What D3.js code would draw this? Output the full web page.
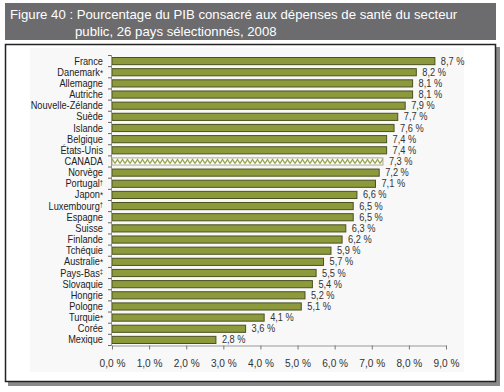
<!DOCTYPE html>
<html>
<head>
<meta charset="utf-8">
<script src="https://cdn.jsdelivr.net/npm/d3@7"></script>
<style>
  body { margin: 0; background: #fff; }
  svg { display: block; }
</style>
</head>
<body>
<div class="chart"></div>
<script>
// data
var countries = ["France", "Danemark*", "Allemagne", "Autriche", "Nouvelle-Zélande", "Suède", "Islande",
  "Belgique", "États-Unis", "CANADA", "Norvège", "Portugal†", "Japon*", "Luxembourg†", "Espagne",
  "Suisse", "Finlande", "Tchéquie", "Australie*", "Pays-Bas‡", "Slovaquie", "Hongrie", "Pologne",
  "Turquie*", "Corée", "Mexique"];
var values = [8.7, 8.2, 8.1, 8.1, 7.9, 7.7, 7.6, 7.4, 7.4, 7.3, 7.2, 7.1, 6.6, 6.5, 6.5,
  6.3, 6.2, 5.9, 5.7, 5.5, 5.4, 5.2, 5.1, 4.1, 3.6, 2.8];
var xTicks = [0, 1, 2, 3, 4, 5, 6, 7, 8, 9];
var titleLines = ["Figure 40 : Pourcentage du PIB consacré aux dépenses de santé du secteur",
  "public, 26 pays sélectionnés, 2008"];

var W = 504, H = 392;
var font = "'Liberation Sans', Arial, sans-serif";
var squeeze = 0.88; // labels in the figure use a condensed face
var fmt = function(d) { return d3.format(".1f")(d).replace(".", ",") + " %"; };

var svg = d3.select(".chart").append("svg").attr("width", W).attr("height", H);

var x = d3.scaleLinear().domain([0, 9]).range([112, 446]);
var y = d3.scaleBand().domain(countries).range([55.5, 345.5]).paddingInner(0.36).paddingOuter(0.18);

var defs = svg.append("defs");
var pat = defs.append("pattern").attr("id", "zig")
  .attr("patternUnits", "userSpaceOnUse")
  .attr("x", 0).attr("y", y("CANADA"))
  .attr("width", 5).attr("height", y.bandwidth());
pat.append("rect").attr("width", 5).attr("height", y.bandwidth()).attr("fill", "#fff");
pat.append("path").attr("d", "M0," + (y.bandwidth() - 1.5) + " L2.5,1.5 L5," + (y.bandwidth() - 1.5))
  .attr("fill", "none").attr("stroke", "#8c9a3c").attr("stroke-width", 1.2);

// title bar
svg.append("rect").attr("x", 5).attr("y", 3).attr("width", 491).attr("height", 37).attr("fill", "#6c6c6f");
svg.append("text").attr("x", 10).attr("y", 19).attr("fill", "#fff")
  .style("font-family", font).style("font-size", "13.2px")
  .text(titleLines[0]);
svg.append("text").attr("x", 75).attr("y", 36).attr("fill", "#fff")
  .style("font-family", font).style("font-size", "13.2px")
  .text(titleLines[1]);

// frame with shadow
svg.append("rect").attr("x", 8).attr("y", 47).attr("width", 492).attr("height", 339).attr("fill", "#8a8a8a");
svg.append("rect").attr("x", 5.5).attr("y", 44.5).attr("width", 490).attr("height", 337)
  .attr("fill", "#fff").attr("stroke", "#222").attr("stroke-width", 1.5);
svg.append("rect").attr("x", 30).attr("y", 48).attr("width", 434).attr("height", 324).attr("fill", "#f8f8f8");

// bars
svg.selectAll("rect.bar").data(values).enter().append("rect")
  .attr("class", "bar")
  .attr("x", x(0))
  .attr("y", function(d, i) { return y(countries[i]); })
  .attr("width", function(d) { return x(d) - x(0); })
  .attr("height", y.bandwidth())
  .attr("fill", function(d, i) { return countries[i] == "CANADA" ? "url(#zig)" : "#8c9a3c"; })
  .attr("stroke", function(d, i) { return countries[i] == "CANADA" ? "#a4a88a" : "#4b5220"; })
  .attr("stroke-width", 1);

// value labels
svg.selectAll("g.val").data(values).enter().append("g")
  .attr("class", "val")
  .attr("transform", function(d, i) {
    return "translate(" + (x(d) + 6) + "," + (y(countries[i]) + y.bandwidth() / 2 + 3.5) + ") scale(" + squeeze + ",1)";
  })
  .append("text")
  .attr("fill", "#333")
  .style("font-family", font).style("font-size", "10.5px")
  .text(fmt);

// y axis: line, ticks between categories, labels
var ya = svg.append("g");
ya.append("line").attr("x1", 111.5).attr("x2", 111.5).attr("y1", 55.5).attr("y2", 345.5).attr("stroke", "#999");
ya.selectAll("line.tk").data(d3.range(countries.length + 1)).enter().append("line")
  .attr("class", "tk")
  .attr("x1", 108).attr("x2", 111.5)
  .attr("y1", function(i) { return 55.5 + i * y.step(); })
  .attr("y2", function(i) { return 55.5 + i * y.step(); })
  .attr("stroke", "#666");
var lab = ya.selectAll("g.cat").data(countries).enter().append("g")
  .attr("class", "cat")
  .attr("transform", function(d) {
    return "translate(103," + (y(d) + y.bandwidth() / 2 + 3.5) + ") scale(" + squeeze + ",1)";
  })
  .append("text")
  .attr("text-anchor", "end")
  .attr("fill", "#222")
  .style("font-family", font).style("font-size", "10.5px");
lab.each(function(d) {
  var t = d3.select(this);
  var m = d.match(/^(.*?)([*†‡]?)$/);
  t.append("tspan").text(m[1]);
  if (m[2]) {
    t.append("tspan").text(m[2]).style("font-size", m[2] == "*" ? "9px" : "6.5px")
      .attr("dy", m[2] == "*" ? 0 : -2.5);
  }
});

// x axis
var xa = svg.append("g").attr("transform", "translate(0,345.5)")
  .call(d3.axisBottom(x).tickValues(xTicks).tickFormat(fmt).tickSize(4).tickSizeOuter(0));
xa.select(".domain").attr("stroke", "#999");
xa.selectAll(".tick line").attr("stroke", "#777");
xa.selectAll(".tick text").attr("y", 13).attr("fill", "#333")
  .attr("transform", "scale(" + squeeze + ",1)")
  .style("font-family", font).style("font-size", "11.5px");
</script>
</body>
</html>
